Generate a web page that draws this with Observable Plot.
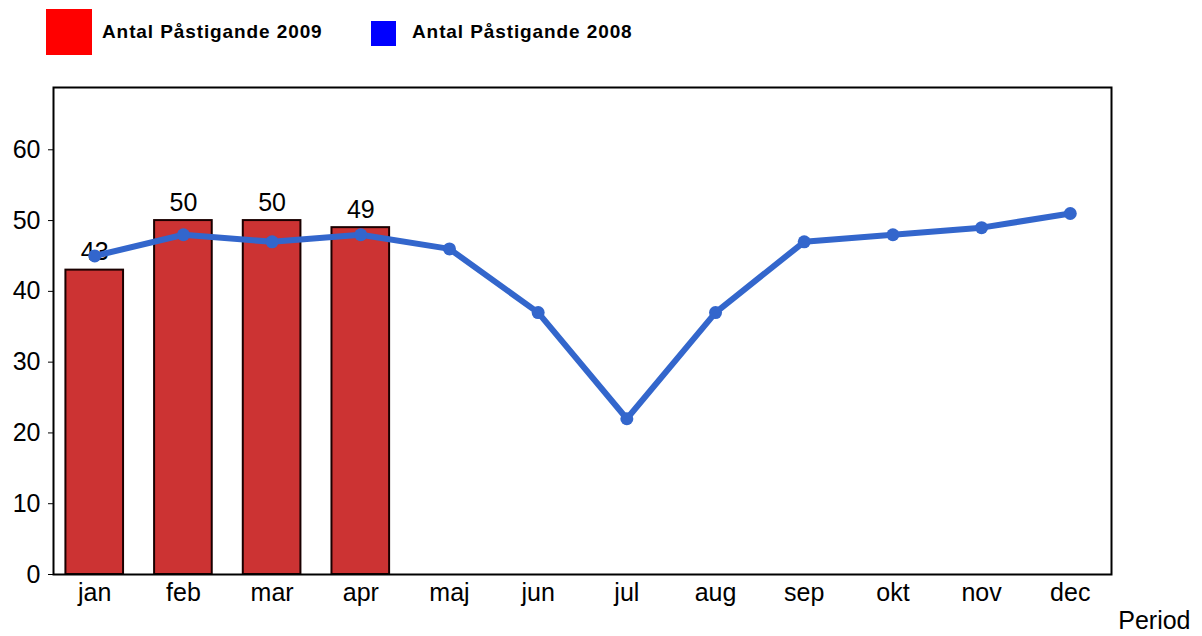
<!DOCTYPE html>
<html>
<head>
<meta charset="utf-8">
<script src="https://cdn.jsdelivr.net/npm/d3@7"></script>
<script src="https://cdn.jsdelivr.net/npm/@observablehq/plot@0.6"></script>
<style>
  body { margin: 0; background: #fff; font-family: "Liberation Sans", Arial, sans-serif; }
  #legend { position: relative; height: 70px; width: 1202px; }
  .sw { position: absolute; }
  .lt { position: absolute; font-weight: bold; font-size: 19px; letter-spacing: 0.9px; line-height: 19px; color: #000; white-space: nowrap; }
  #chart svg { display: block; }
</style>
</head>
<body>
<div id="legend">
  <div class="sw" style="left:46px;top:9px;width:46px;height:46px;background:#ff0000"></div>
  <div class="lt" style="left:102px;top:22px">Antal Påstigande 2009</div>
  <div class="sw" style="left:371px;top:21px;width:25px;height:25px;background:#0000ff"></div>
  <div class="lt" style="left:412px;top:22px">Antal Påstigande 2008</div>
</div>
<div id="chart"></div>
<script>
const months = ["jan","feb","mar","apr","maj","jun","jul","aug","sep","okt","nov","dec"];
const values2009 = [43, 50, 50, 49];
const values2008 = [45, 48, 47, 48, 46, 37, 22, 37, 47, 48, 49, 51];
const yTicks = [0, 10, 20, 30, 40, 50, 60];
const xLabel = "Period";

const bars = values2009.map((v, i) => ({month: months[i], value: v}));
const line = values2008.map((v, i) => ({month: months[i], value: v}));

const chart = Plot.plot({
  width: 1202,
  height: 566,
  marginTop: 17,
  marginBottom: 62,
  marginLeft: 53,
  marginRight: 91,
  style: {fontFamily: "'Liberation Sans', Arial, sans-serif", fontSize: "25px", color: "#000", background: "#fff"},
  x: {domain: months, paddingInner: 0.35, paddingOuter: 0.14, round: false, label: null},
  y: {domain: [0, 68.8], label: null},
  marks: [
    Plot.barY(bars, {x: "month", y: "value", fill: "#cc3333", stroke: "#1a0000", strokeWidth: 2}),
    Plot.text(bars, {x: "month", y: "value", text: d => String(d.value), dy: -18, fontSize: 25, fill: "#000"}),
    Plot.line(line, {x: "month", y: "value", stroke: "#3366cc", strokeWidth: 6}),
    Plot.dot(line, {x: "month", y: "value", r: 6.5, fill: "#3366cc"}),
    Plot.frame({stroke: "#000", strokeWidth: 2}),
    Plot.axisY({ticks: yTicks, tickSize: 5, tickPadding: 8, fontSize: 25, label: null, tickFormat: d => String(d)}),
    Plot.axisX({tickSize: 0, tickPadding: 9, fontSize: 25, label: null}),
    Plot.text([xLabel], {frameAnchor: "bottom-right", text: d => d, dx: 79, dy: 54, fontSize: 25, textAnchor: "end"})
  ]
});
document.getElementById("chart").appendChild(chart);
</script>
</body>
</html>
